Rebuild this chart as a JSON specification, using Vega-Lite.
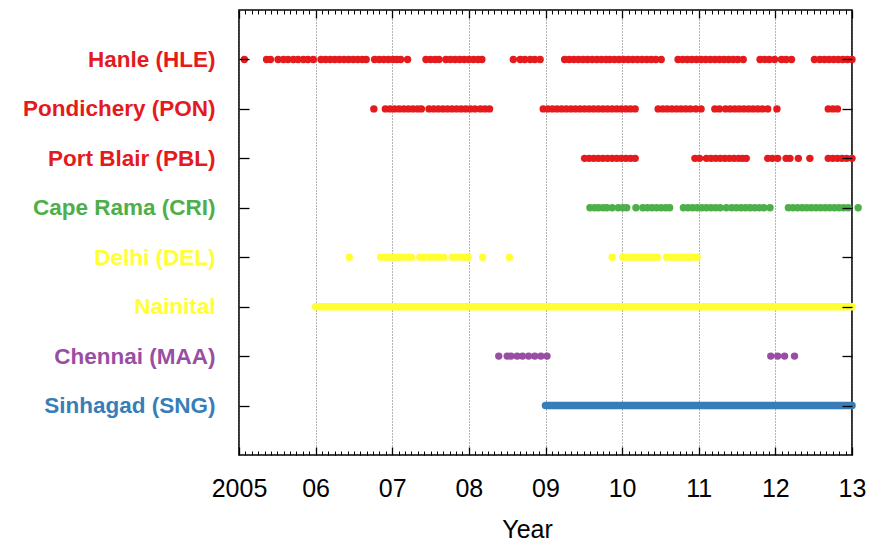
{
"$schema": "https://vega.github.io/schema/vega-lite/v6.json",
"width": 613, "height": 445,
"autosize": {"type": "none"},
"padding": {"left": 239, "top": 10, "right": 23, "bottom": 87},
"background": "white",
"config": {"view": {"stroke": "black", "strokeWidth": 1.6}, "axis": {"domain": false, "tickColor": "black", "tickWidth": 1.3}},
"datasets": {
"dots": [
{"s":"HLE","t":2005.07},{"s":"HLE","t":2005.36},{"s":"HLE","t":2005.41},{"s":"HLE","t":2005.51},{"s":"HLE","t":2005.58},{"s":"HLE","t":2005.64},{"s":"HLE","t":2005.71},{"s":"HLE","t":2005.77},{"s":"HLE","t":2005.84},{"s":"HLE","t":2005.90},{"s":"HLE","t":2005.97},
{"s":"HLE","t":2006.07},{"s":"HLE","t":2006.13},{"s":"HLE","t":2006.19},{"s":"HLE","t":2006.25},{"s":"HLE","t":2006.31},{"s":"HLE","t":2006.37},{"s":"HLE","t":2006.43},{"s":"HLE","t":2006.49},{"s":"HLE","t":2006.55},{"s":"HLE","t":2006.61},{"s":"HLE","t":2006.66},
{"s":"HLE","t":2006.77},{"s":"HLE","t":2006.83},{"s":"HLE","t":2006.89},{"s":"HLE","t":2006.95},{"s":"HLE","t":2007.01},{"s":"HLE","t":2007.06},{"s":"HLE","t":2007.11},{"s":"HLE","t":2007.20},
{"s":"HLE","t":2007.44},{"s":"HLE","t":2007.50},{"s":"HLE","t":2007.56},{"s":"HLE","t":2007.61},{"s":"HLE","t":2007.70},{"s":"HLE","t":2007.76},{"s":"HLE","t":2007.82},{"s":"HLE","t":2007.88},{"s":"HLE","t":2007.94},{"s":"HLE","t":2008.00},{"s":"HLE","t":2008.06},{"s":"HLE","t":2008.12},{"s":"HLE","t":2008.17},
{"s":"HLE","t":2008.58},{"s":"HLE","t":2008.67},{"s":"HLE","t":2008.73},{"s":"HLE","t":2008.80},{"s":"HLE","t":2008.86},{"s":"HLE","t":2008.93},
{"s":"HLE","t":2009.25},{"s":"HLE","t":2009.31},{"s":"HLE","t":2009.37},{"s":"HLE","t":2009.43},{"s":"HLE","t":2009.49},{"s":"HLE","t":2009.55},{"s":"HLE","t":2009.61},{"s":"HLE","t":2009.67},{"s":"HLE","t":2009.73},{"s":"HLE","t":2009.79},{"s":"HLE","t":2009.84},{"s":"HLE","t":2009.90},{"s":"HLE","t":2009.96},{"s":"HLE","t":2010.02},{"s":"HLE","t":2010.08},{"s":"HLE","t":2010.14},{"s":"HLE","t":2010.20},{"s":"HLE","t":2010.26},{"s":"HLE","t":2010.32},{"s":"HLE","t":2010.38},{"s":"HLE","t":2010.44},{"s":"HLE","t":2010.51},
{"s":"HLE","t":2010.73},{"s":"HLE","t":2010.79},{"s":"HLE","t":2010.85},{"s":"HLE","t":2010.91},{"s":"HLE","t":2010.97},{"s":"HLE","t":2011.03},{"s":"HLE","t":2011.09},{"s":"HLE","t":2011.15},{"s":"HLE","t":2011.21},{"s":"HLE","t":2011.27},{"s":"HLE","t":2011.33},{"s":"HLE","t":2011.39},{"s":"HLE","t":2011.45},{"s":"HLE","t":2011.51},{"s":"HLE","t":2011.58},
{"s":"HLE","t":2011.80},{"s":"HLE","t":2011.86},{"s":"HLE","t":2011.92},{"s":"HLE","t":2011.99},{"s":"HLE","t":2012.08},{"s":"HLE","t":2012.14},{"s":"HLE","t":2012.21},
{"s":"HLE","t":2012.51},{"s":"HLE","t":2012.58},{"s":"HLE","t":2012.64},{"s":"HLE","t":2012.70},{"s":"HLE","t":2012.76},{"s":"HLE","t":2012.82},{"s":"HLE","t":2012.88},{"s":"HLE","t":2012.94},{"s":"HLE","t":2013.00},
{"s":"PON","t":2006.76},{"s":"PON","t":2006.91},{"s":"PON","t":2006.97},{"s":"PON","t":2007.03},{"s":"PON","t":2007.09},{"s":"PON","t":2007.15},{"s":"PON","t":2007.21},{"s":"PON","t":2007.27},{"s":"PON","t":2007.33},{"s":"PON","t":2007.38},
{"s":"PON","t":2007.48},{"s":"PON","t":2007.54},{"s":"PON","t":2007.60},{"s":"PON","t":2007.66},{"s":"PON","t":2007.72},{"s":"PON","t":2007.78},{"s":"PON","t":2007.84},{"s":"PON","t":2007.90},{"s":"PON","t":2007.96},{"s":"PON","t":2008.02},{"s":"PON","t":2008.08},{"s":"PON","t":2008.15},{"s":"PON","t":2008.21},{"s":"PON","t":2008.27},
{"s":"PON","t":2008.97},{"s":"PON","t":2009.03},{"s":"PON","t":2009.09},{"s":"PON","t":2009.15},{"s":"PON","t":2009.21},{"s":"PON","t":2009.27},{"s":"PON","t":2009.33},{"s":"PON","t":2009.39},{"s":"PON","t":2009.45},{"s":"PON","t":2009.51},{"s":"PON","t":2009.57},{"s":"PON","t":2009.63},{"s":"PON","t":2009.69},{"s":"PON","t":2009.75},{"s":"PON","t":2009.81},{"s":"PON","t":2009.87},{"s":"PON","t":2009.93},{"s":"PON","t":2009.99},{"s":"PON","t":2010.05},{"s":"PON","t":2010.11},{"s":"PON","t":2010.17},
{"s":"PON","t":2010.47},{"s":"PON","t":2010.53},{"s":"PON","t":2010.59},{"s":"PON","t":2010.65},{"s":"PON","t":2010.71},{"s":"PON","t":2010.77},{"s":"PON","t":2010.83},{"s":"PON","t":2010.89},{"s":"PON","t":2010.96},{"s":"PON","t":2011.03},
{"s":"PON","t":2011.21},{"s":"PON","t":2011.27},{"s":"PON","t":2011.35},{"s":"PON","t":2011.41},{"s":"PON","t":2011.47},{"s":"PON","t":2011.53},{"s":"PON","t":2011.59},{"s":"PON","t":2011.65},{"s":"PON","t":2011.71},{"s":"PON","t":2011.77},{"s":"PON","t":2011.83},{"s":"PON","t":2011.90},
{"s":"PON","t":2012.02},{"s":"PON","t":2012.69},{"s":"PON","t":2012.75},{"s":"PON","t":2012.81},
{"s":"PBL","t":2009.51},{"s":"PBL","t":2009.57},{"s":"PBL","t":2009.63},{"s":"PBL","t":2009.69},{"s":"PBL","t":2009.75},{"s":"PBL","t":2009.81},{"s":"PBL","t":2009.87},{"s":"PBL","t":2009.93},{"s":"PBL","t":2009.99},{"s":"PBL","t":2010.05},{"s":"PBL","t":2010.11},{"s":"PBL","t":2010.17},
{"s":"PBL","t":2010.95},{"s":"PBL","t":2011.01},{"s":"PBL","t":2011.10},{"s":"PBL","t":2011.16},{"s":"PBL","t":2011.22},{"s":"PBL","t":2011.28},{"s":"PBL","t":2011.34},{"s":"PBL","t":2011.40},{"s":"PBL","t":2011.46},{"s":"PBL","t":2011.52},{"s":"PBL","t":2011.57},{"s":"PBL","t":2011.62},
{"s":"PBL","t":2011.90},{"s":"PBL","t":2011.96},{"s":"PBL","t":2012.03},{"s":"PBL","t":2012.14},{"s":"PBL","t":2012.19},{"s":"PBL","t":2012.30},{"s":"PBL","t":2012.45},
{"s":"PBL","t":2012.69},{"s":"PBL","t":2012.75},{"s":"PBL","t":2012.81},{"s":"PBL","t":2012.87},{"s":"PBL","t":2012.93},{"s":"PBL","t":2013.00},
{"s":"CRI","t":2009.58},{"s":"CRI","t":2009.64},{"s":"CRI","t":2009.69},{"s":"CRI","t":2009.75},{"s":"CRI","t":2009.80},{"s":"CRI","t":2009.87},{"s":"CRI","t":2009.95},{"s":"CRI","t":2010.01},{"s":"CRI","t":2010.06},{"s":"CRI","t":2010.18},
{"s":"CRI","t":2010.27},{"s":"CRI","t":2010.33},{"s":"CRI","t":2010.39},{"s":"CRI","t":2010.45},{"s":"CRI","t":2010.51},{"s":"CRI","t":2010.57},{"s":"CRI","t":2010.62},
{"s":"CRI","t":2010.80},{"s":"CRI","t":2010.86},{"s":"CRI","t":2010.92},{"s":"CRI","t":2010.98},{"s":"CRI","t":2011.04},{"s":"CRI","t":2011.10},{"s":"CRI","t":2011.16},{"s":"CRI","t":2011.22},{"s":"CRI","t":2011.28},{"s":"CRI","t":2011.36},
{"s":"CRI","t":2011.43},{"s":"CRI","t":2011.49},{"s":"CRI","t":2011.55},{"s":"CRI","t":2011.61},{"s":"CRI","t":2011.67},{"s":"CRI","t":2011.73},{"s":"CRI","t":2011.79},{"s":"CRI","t":2011.85},{"s":"CRI","t":2011.93},
{"s":"CRI","t":2012.17},{"s":"CRI","t":2012.23},{"s":"CRI","t":2012.29},{"s":"CRI","t":2012.35},{"s":"CRI","t":2012.41},{"s":"CRI","t":2012.47},{"s":"CRI","t":2012.53},{"s":"CRI","t":2012.59},{"s":"CRI","t":2012.65},{"s":"CRI","t":2012.71},{"s":"CRI","t":2012.77},{"s":"CRI","t":2012.83},{"s":"CRI","t":2012.89},{"s":"CRI","t":2012.95},{"s":"CRI","t":2013.08},
{"s":"DEL","t":2006.44},{"s":"DEL","t":2006.85},{"s":"DEL","t":2006.91},{"s":"DEL","t":2006.97},{"s":"DEL","t":2007.03},{"s":"DEL","t":2007.09},{"s":"DEL","t":2007.15},{"s":"DEL","t":2007.21},{"s":"DEL","t":2007.25},{"s":"DEL","t":2007.36},{"s":"DEL","t":2007.42},{"s":"DEL","t":2007.48},{"s":"DEL","t":2007.55},{"s":"DEL","t":2007.61},{"s":"DEL","t":2007.67},{"s":"DEL","t":2007.78},{"s":"DEL","t":2007.84},{"s":"DEL","t":2007.90},{"s":"DEL","t":2007.96},{"s":"DEL","t":2007.99},{"s":"DEL","t":2008.18},{"s":"DEL","t":2008.53},
{"s":"DEL","t":2009.87},{"s":"DEL","t":2010.01},{"s":"DEL","t":2010.07},{"s":"DEL","t":2010.13},{"s":"DEL","t":2010.19},{"s":"DEL","t":2010.25},{"s":"DEL","t":2010.31},{"s":"DEL","t":2010.37},{"s":"DEL","t":2010.43},{"s":"DEL","t":2010.46},{"s":"DEL","t":2010.58},{"s":"DEL","t":2010.64},{"s":"DEL","t":2010.70},{"s":"DEL","t":2010.76},{"s":"DEL","t":2010.82},{"s":"DEL","t":2010.88},{"s":"DEL","t":2010.94},{"s":"DEL","t":2010.98},
{"s":"MAA","t":2008.39},{"s":"MAA","t":2008.50},{"s":"MAA","t":2008.55},{"s":"MAA","t":2008.63},{"s":"MAA","t":2008.70},{"s":"MAA","t":2008.78},{"s":"MAA","t":2008.86},{"s":"MAA","t":2008.94},{"s":"MAA","t":2009.02},
{"s":"MAA","t":2011.94},{"s":"MAA","t":2012.03},{"s":"MAA","t":2012.12},{"s":"MAA","t":2012.25}
],
"spans": [{"s":"NTL","t":2006.0,"t2":2013.0},{"s":"SNG","t":2009.0,"t2":2013.0}]
},
"resolve": {"axis": {"x": "independent", "y": "independent"}},
"layer": [
{
"data": {"name": "dots"},
"transform": [{"filter": "indexof(['HLE','PON','PBL'], datum.s) >= 0"}],
"mark": {"type": "point", "filled": true, "size": 55, "opacity": 1},
"encoding": {
"x": {"field": "t", "type": "quantitative", "scale": {"domain": [2005, 2013], "nice": false, "zero": false},
"axis": {"orient": "bottom", "values": [2005,2006,2007,2008,2009,2010,2011,2012,2013], "tickSize": -8, "labelPadding": 29, "labelFontSize": 25, "labelFont": "Liberation Sans", "labelColor": "black", "labelFlush": false, "labelOverlap": false,
"labelExpr": "datum.value == 2005 ? '2005' : format(datum.value - 2000, '02d')",
"grid": true, "gridDash": [1, 2], "gridColor": "#666", "gridWidth": 1,
"title": "Year", "titleFont": "Liberation Sans", "titleFontSize": 25, "titleFontWeight": "normal", "titleColor": "black", "titlePadding": 16, "titleX": 288, "titleAlign": "center"}},
"y": {"field": "s", "type": "nominal", "scale": {"type": "point", "domain": ["HLE","PON","PBL","CRI","DEL","NTL","MAA","SNG"], "padding": 1},
"axis": {"orient": "left", "tickSize": -10, "labelPadding": 34, "labelLimit": 300, "labelFont": "Liberation Sans", "labelFontSize": 22.5, "labelFontWeight": "bold", "title": null, "grid": false, "zindex": 1,
"labelExpr": "datum.value == 'HLE' ? 'Hanle (HLE)' : datum.value == 'PON' ? 'Pondichery (PON)' : datum.value == 'PBL' ? 'Port Blair (PBL)' : datum.value == 'CRI' ? 'Cape Rama (CRI)' : datum.value == 'DEL' ? 'Delhi (DEL)' : datum.value == 'NTL' ? 'Nainital' : datum.value == 'MAA' ? 'Chennai (MAA)' : 'Sinhagad (SNG)'",
"labelColor": {"condition": [
{"test": "indexof(['HLE','PON','PBL'], datum.value) >= 0", "value": "#e41a1c"},
{"test": "datum.value == 'CRI'", "value": "#4daf4a"},
{"test": "indexof(['DEL','NTL'], datum.value) >= 0", "value": "#ffff33"},
{"test": "datum.value == 'MAA'", "value": "#984ea3"}
], "value": "#377eb8"}}},
"color": {"field": "s", "type": "nominal", "legend": null,
"scale": {"domain": ["HLE","PON","PBL","CRI","DEL","NTL","MAA","SNG"], "range": ["#e41a1c","#e41a1c","#e41a1c","#4daf4a","#ffff33","#ffff33","#984ea3","#377eb8"]}}
}
},
{
"data": {"name": "dots"},
"transform": [{"filter": "indexof(['HLE','PON','PBL'], datum.s) < 0"}],
"mark": {"type": "point", "filled": true, "size": 55, "opacity": 1},
"encoding": {
"x": {"field": "t", "type": "quantitative", "scale": {"domain": [2005, 2013], "nice": false, "zero": false},
"axis": {"orient": "bottom", "values": [2005.0833,2005.1667,2005.25,2005.3333,2005.4167,2005.5,2005.5833,2005.6667,2005.75,2005.8333,2005.9167,2006.0833,2006.1667,2006.25,2006.3333,2006.4167,2006.5,2006.5833,2006.6667,2006.75,2006.8333,2006.9167,2007.0833,2007.1667,2007.25,2007.3333,2007.4167,2007.5,2007.5833,2007.6667,2007.75,2007.8333,2007.9167,2008.0833,2008.1667,2008.25,2008.3333,2008.4167,2008.5,2008.5833,2008.6667,2008.75,2008.8333,2008.9167,2009.0833,2009.1667,2009.25,2009.3333,2009.4167,2009.5,2009.5833,2009.6667,2009.75,2009.8333,2009.9167,2010.0833,2010.1667,2010.25,2010.3333,2010.4167,2010.5,2010.5833,2010.6667,2010.75,2010.8333,2010.9167,2011.0833,2011.1667,2011.25,2011.3333,2011.4167,2011.5,2011.5833,2011.6667,2011.75,2011.8333,2011.9167,2012.0833,2012.1667,2012.25,2012.3333,2012.4167,2012.5,2012.5833,2012.6667,2012.75,2012.8333,2012.9167], "tickSize": -4, "tickWidth": 1, "labels": false, "grid": false, "title": null}},
"y": {"field": "s", "type": "nominal", "scale": {"type": "point", "domain": ["HLE","PON","PBL","CRI","DEL","NTL","MAA","SNG"], "padding": 1}, "axis": null},
"color": {"field": "s", "type": "nominal", "legend": null,
"scale": {"domain": ["HLE","PON","PBL","CRI","DEL","NTL","MAA","SNG"], "range": ["#e41a1c","#e41a1c","#e41a1c","#4daf4a","#ffff33","#ffff33","#984ea3","#377eb8"]}}
}
},
{
"data": {"name": "spans"},
"transform": [{"filter": "datum.s == 'NTL'"}],
"mark": {"type": "rule", "strokeWidth": 7.5, "strokeCap": "round"},
"encoding": {
"x": {"field": "t", "type": "quantitative", "scale": {"domain": [2005, 2013], "nice": false, "zero": false},
"axis": {"orient": "top", "values": [2005,2006,2007,2008,2009,2010,2011,2012,2013], "tickSize": -8, "labels": false, "grid": false, "title": null, "zindex": 1}},
"x2": {"field": "t2"},
"y": {"field": "s", "type": "nominal", "scale": {"type": "point", "domain": ["HLE","PON","PBL","CRI","DEL","NTL","MAA","SNG"], "padding": 1},
"axis": {"orient": "right", "tickSize": -10, "labels": false, "grid": false, "title": null, "zindex": 1}},
"color": {"field": "s", "type": "nominal", "legend": null,
"scale": {"domain": ["HLE","PON","PBL","CRI","DEL","NTL","MAA","SNG"], "range": ["#e41a1c","#e41a1c","#e41a1c","#4daf4a","#ffff33","#ffff33","#984ea3","#377eb8"]}}
}
},
{
"data": {"name": "spans"},
"transform": [{"filter": "datum.s == 'SNG'"}],
"mark": {"type": "rule", "strokeWidth": 7.5, "strokeCap": "round"},
"encoding": {
"x": {"field": "t", "type": "quantitative", "scale": {"domain": [2005, 2013], "nice": false, "zero": false},
"axis": {"orient": "top", "values": [2005.0833,2005.1667,2005.25,2005.3333,2005.4167,2005.5,2005.5833,2005.6667,2005.75,2005.8333,2005.9167,2006.0833,2006.1667,2006.25,2006.3333,2006.4167,2006.5,2006.5833,2006.6667,2006.75,2006.8333,2006.9167,2007.0833,2007.1667,2007.25,2007.3333,2007.4167,2007.5,2007.5833,2007.6667,2007.75,2007.8333,2007.9167,2008.0833,2008.1667,2008.25,2008.3333,2008.4167,2008.5,2008.5833,2008.6667,2008.75,2008.8333,2008.9167,2009.0833,2009.1667,2009.25,2009.3333,2009.4167,2009.5,2009.5833,2009.6667,2009.75,2009.8333,2009.9167,2010.0833,2010.1667,2010.25,2010.3333,2010.4167,2010.5,2010.5833,2010.6667,2010.75,2010.8333,2010.9167,2011.0833,2011.1667,2011.25,2011.3333,2011.4167,2011.5,2011.5833,2011.6667,2011.75,2011.8333,2011.9167,2012.0833,2012.1667,2012.25,2012.3333,2012.4167,2012.5,2012.5833,2012.6667,2012.75,2012.8333,2012.9167], "tickSize": -4, "tickWidth": 1, "labels": false, "grid": false, "title": null}},
"x2": {"field": "t2"},
"y": {"field": "s", "type": "nominal", "scale": {"type": "point", "domain": ["HLE","PON","PBL","CRI","DEL","NTL","MAA","SNG"], "padding": 1}, "axis": null},
"color": {"field": "s", "type": "nominal", "legend": null,
"scale": {"domain": ["HLE","PON","PBL","CRI","DEL","NTL","MAA","SNG"], "range": ["#e41a1c","#e41a1c","#e41a1c","#4daf4a","#ffff33","#ffff33","#984ea3","#377eb8"]}}
}
}
]
}
